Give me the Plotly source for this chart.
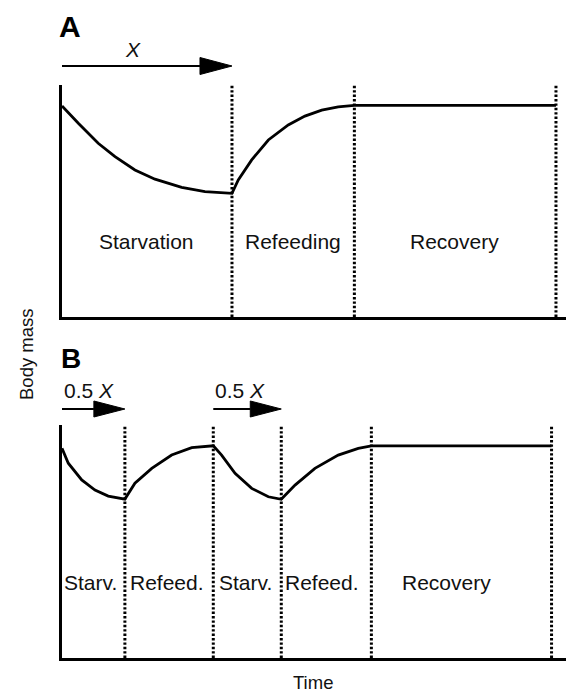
import plotly.graph_objects as go

# ---------------- data (schematic values) ----------------
# Panel A: one long starvation, then refeeding, then recovery
A_time = [0, 0.96, 2.13, 3.12, 4.29, 5.47, 7.04, 8.41, 10.0,
          10.37, 11.16, 12.14, 13.31, 14.29, 15.28, 16.25, 17.2, 29.06]
A_mass = [91.0, 83.5, 74.9, 69.1, 63.4, 59.4, 55.9, 54.0, 53.3,
          59.1, 67.7, 76.3, 82.8, 86.6, 89.2, 90.6, 91.2, 91.2]
A_bounds = [10.0, 17.2, 29.06]
A_labels = ["Starvation", "Refeeding", "Recovery"]
A_label_t = [5.0, 13.6, 23.1]
A_arrows = [(0.0, 10.0)]
A_arrow_text = ["<i>X</i>"]

# Panel B: two half-length starvation/refeeding cycles, then recovery
B_time = [0, 0.37, 1.16, 1.94, 2.72, 3.7, 4.29, 5.28, 6.45, 7.63, 8.9,
          9.39, 10.18, 11.16, 12.14, 12.9, 13.71, 14.88, 16.25, 17.43, 18.2, 28.8]
B_mass = [90.0, 83.6, 76.4, 72.1, 69.5, 68.2, 75.0, 81.4, 87.1, 90.3, 91.1,
          87.1, 79.3, 72.8, 69.2, 68.1, 74.2, 81.4, 87.1, 90.0, 91.0, 91.0]
B_bounds = [3.7, 8.9, 12.9, 18.2, 28.8]
B_labels = ["Starv.", "Refeed.", "Starv.", "Refeed.", "Recovery"]
B_label_t = [1.7, 6.2, 10.8, 15.3, 22.6]
B_arrows = [(0.0, 3.7), (8.9, 12.9)]
B_arrow_text = ["0.5 <i>X</i>", "0.5 <i>X</i>"]

LABEL_MASS = 32.5
X_RANGE = [0, 29.65]
Y_RANGE = [0, 100]

# ---------------- layout geometry ----------------
W, H = 566, 692
X_DOMAIN = [62 / W, 1.0]
A_DOMAIN = [1 - 317 / H, 1 - 85 / H]
B_DOMAIN = [1 - 658 / H, 1 - 425 / H]
FONT = "Liberation Sans, Arial, Helvetica, sans-serif"
PX_PER_UNIT = (X_DOMAIN[1] - X_DOMAIN[0]) * W / (X_RANGE[1] - X_RANGE[0])

fig = go.Figure()


def add_panel(time, mass, bounds, xa, ya):
    for b in bounds:
        fig.add_trace(go.Scatter(
            x=[b, b], y=Y_RANGE, mode="lines", xaxis=xa, yaxis=ya,
            line=dict(color="black", width=3, dash="2.4px,2px"),
            hoverinfo="skip", showlegend=False))
    fig.add_trace(go.Scatter(
        x=time, y=mass, mode="lines", xaxis=xa, yaxis=ya,
        line=dict(color="black", width=2.8), showlegend=False))


add_panel(A_time, A_mass, A_bounds, "x", "y")
add_panel(B_time, B_mass, B_bounds, "x2", "y2")

annotations = []
shapes = []


def phase_labels(labels, ts, xref, yref):
    for lab, t in zip(labels, ts):
        annotations.append(dict(
            x=t, y=LABEL_MASS, xref=xref, yref=yref, text=lab, showarrow=False,
            font=dict(size=21, color="#111"), xanchor="center", yanchor="middle"))


phase_labels(A_labels, A_label_t, "x", "y")
phase_labels(B_labels, B_label_t, "x2", "y2")


def arrows(spans, texts, xref, y_paper, head_px, half_px, text_y, text_pos):
    head = head_px / PX_PER_UNIT
    hh = half_px / H
    for (t0, t1), txt, tp in zip(spans, texts, text_pos):
        shapes.append(dict(type="line", xref=xref, yref="paper",
                           x0=t0, x1=t1 - head, y0=y_paper, y1=y_paper,
                           line=dict(color="black", width=2)))
        shapes.append(dict(
            type="path", xref=xref, yref="paper",
            path=f"M {t1 - head},{y_paper + hh} L {t1},{y_paper} L {t1 - head},{y_paper - hh} Z",
            fillcolor="black", line=dict(color="black", width=1)))
        x, anchor = tp
        annotations.append(dict(
            x=t0 if x is None else x, y=text_y, xref=xref, yref="paper", text=txt,
            showarrow=False, font=dict(size=21, color="#111"),
            xanchor=anchor, yanchor="middle"))


arrows(A_arrows, A_arrow_text, "x", 1 - 66 / H, 32, 8.5, 1 - 50 / H, [(4.2, "center")])
arrows(B_arrows, B_arrow_text, "x2", 1 - 409 / H, 31, 8, 1 - 390 / H,
       [(None, "left"), (None, "left")])

# panel letters and axis titles
annotations += [
    dict(x=70 / W, y=1 - 26 / H, xref="paper", yref="paper", text="<b>A</b>",
         showarrow=False, font=dict(size=30, color="black"), xanchor="center", yanchor="middle"),
    dict(x=70.5 / W, y=1 - 358 / H, xref="paper", yref="paper", text="<b>B</b>",
         showarrow=False, font=dict(size=28, color="black"), xanchor="center", yanchor="middle"),
    dict(x=26 / W, y=1 - 354 / H, xref="paper", yref="paper", text="Body mass",
         textangle=-90, showarrow=False, font=dict(size=18.5, color="#111"),
         xanchor="center", yanchor="middle"),
    dict(x=313 / W, y=1 - 682 / H, xref="paper", yref="paper", text="Time",
         showarrow=False, font=dict(size=18.5, color="#111"), xanchor="center", yanchor="middle"),
]

axis_common = dict(showgrid=False, zeroline=False, showticklabels=False, ticks="",
                   showline=True, linecolor="black", linewidth=3, fixedrange=True)

fig.update_layout(
    width=W, height=H, margin=dict(l=0, r=0, t=0, b=0),
    paper_bgcolor="white", plot_bgcolor="white",
    font=dict(family=FONT, color="#111"),
    showlegend=False,
    xaxis=dict(domain=X_DOMAIN, range=X_RANGE, anchor="y", **axis_common),
    yaxis=dict(domain=A_DOMAIN, range=Y_RANGE, anchor="x", **axis_common),
    xaxis2=dict(domain=X_DOMAIN, range=X_RANGE, anchor="y2", **axis_common),
    yaxis2=dict(domain=B_DOMAIN, range=Y_RANGE, anchor="x2", **axis_common),
    annotations=annotations, shapes=shapes,
)

fig.write_html("out.html", config={"displayModeBar": False},
               post_script="document.body.style.margin='0';document.body.style.overflow='hidden';")
